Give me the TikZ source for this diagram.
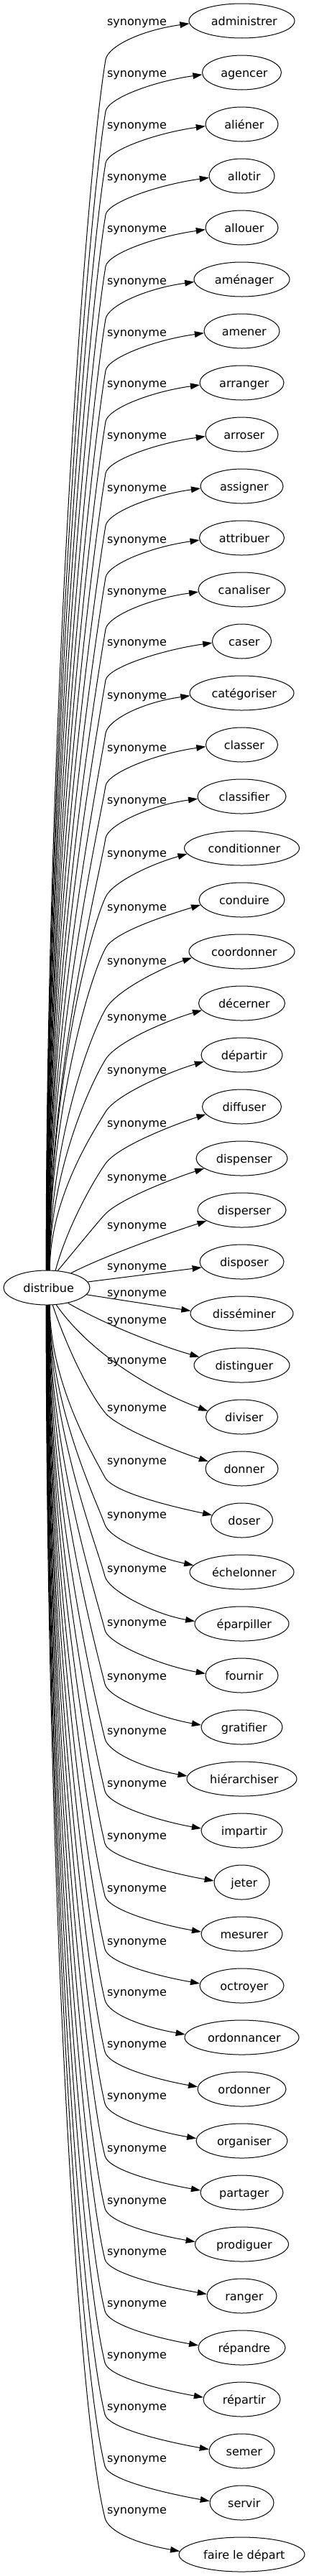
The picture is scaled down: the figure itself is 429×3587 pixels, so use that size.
\documentclass[tikz,border=0pt]{standalone}
\usepackage{fontspec}
\setmainfont{DejaVu Sans}
\usetikzlibrary{arrows.meta,shapes.geometric}
\begin{document}
\begin{tikzpicture}[x=0.75pt,y=-0.75pt,
  every node/.style={font=\fontsize{12pt}{14pt}\selectfont},
  syn/.style={draw, ellipse, line width=0.75pt, minimum height=36pt, inner sep=0pt, text height=10.5pt, text depth=0.75pt},
  lab/.style={inner sep=0pt, text height=10.5pt, text depth=0.75pt},
  edge/.style={line width=0.75pt, -{Triangle[length=9.75pt,width=6.5pt]}}]
\useasboundingbox (0,0) rectangle (429,3587);
\node[syn, minimum width=90pt] (d) at (65,1793) {\hspace*{4pt}distribue};
\foreach \k/\t/\w in {0/administrer/147, 1/agencer/110, 2/aliéner/101, 3/allotir/91, 4/allouer/101, 5/aménager/133, 6/amener/105, 7/arranger/117, 8/arroser/101, 9/assigner/115, 10/attribuer/118, 11/canaliser/121, 12/caser/82, 13/catégoriser/145, 14/classer/100, 15/classifier/123, 16/conditionner/160, 17/conduire/119, 18/coordonner/147, 19/décerner/120, 20/départir/113, 21/diffuser/110, 22/dispenser/127, 23/disperser/123, 24/disposer/117, 25/disséminer/143, 26/distinguer/133, 27/diviser/100, 28/donner/101, 29/doser/86, 30/échelonner/145, 31/éparpiller/131, 32/fournir/101, 33/gratifier/113, 34/hiérarchiser/153, 35/impartir/113, 36/jeter/77, 37/mesurer/113, 38/octroyer/117, 39/ordonnancer/159, 40/ordonner/123, 41/organiser/127, 42/partager/115, 43/prodiguer/130, 44/ranger/97, 45/répandre/121, 46/répartir/107, 47/semer/91, 48/servir/89, 49/faire le départ/175}{
  \node[syn, minimum width=\w*0.75pt] (n\k) at (336.5,{29+72*\k}) {\hspace*{5pt}\t};
}
\foreach \k/\ly in {0/29,1/101,2/173,3/245,4/317,5/390,6/462,7/533,8/605,9/678,10/750,11/822,12/893,13/967,14/1040,15/1113,16/1187,17/1262,18/1337,19/1415,20/1489,21/1563,22/1638,23/1705,24/1762,25/1799,26/1837,27/1893,28/1959,29/2033,30/2108,31/2183,32/2258,33/2333,34/2409,35/2482,36/2555,37/2628,38/2702,39/2773,40/2845,41/2917,42/2990,43/3063,44/3134,45/3206,46/3278,47/3350,48/3422,49/3494}{
  \node[lab] (l\k) at (190.5,\ly) {synonyme};
}
% upper edges
\foreach \k/\ly/\al/\sd/\bo/\ph/\Lt/\ta/\ps/\Lf/\ra in {
 0/29/92/-90/54/-80.5/18/183/-8/70/0.1,
 1/101/91/-90/54/-80.5/18/183/-8/70/0.1,
 2/173/91/-90/54/-80.5/18/183/-8/70/0.1,
 3/245/90/-90/54/-80.5/18/183/-8/70/0.1,
 4/317/90/-90/54/-80.5/18/183/-8/70/0.1,
 5/390/89/-90/54/-80.5/18/183/-8/70/0.1,
 6/462/88/-90/54/-80.5/18/183/-8/70/0.1,
 7/533/88/-90/54/-80.5/18/183/-8/70/0.1,
 8/605/87/-90/54/-80.5/18/183/-8/70/0.1,
 9/678/87/-90/54/-80.5/18/183/-8/70/0.1,
 10/750/86/-90/54/-80.5/18/183/-8/70/0.1,
 11/822/85/-90/54/-80.5/18/183/-8/70/0.1,
 12/893/85/-90/54/-80.5/18/183/-8/70/0.1,
 13/967/84/-90/54/-80.5/18/183/-8/70/0.1,
 14/1040/84/-90/54/-80.5/18/183/-8/70/0.1,
 15/1113/83/-90/54/-80.5/18/183/-8/70/0.1,
 16/1187/82/-90/62/-65/22/186/-16/55/0.12,
 17/1262/82/-90/58/-62/25/187/-17/50/0.13,
 18/1337/81/-90/68/-60/30/187/-19/45/0.15,
 19/1415/81/-90/60/-58/30/190/-16/45/0.15,
 20/1489/80/-90/59/-58/30/190/-16/45/0.15,
 21/1563/63/-75/57/-54/30/192/-18/45/0.15,
 22/1638/57/-50/52/-45/30/195/-18/45/0.15}{
  \pgfmathsetmacro\eBy{\ly+\bo}
  \pgfmathsetmacro\eD{1769-\eBy}
  \pgfmathsetmacro\eLo{0.45*\eD}
  \pgfmathsetmacro\eLs{\ra*\eD}
  \pgfmathsetmacro\ePb{\ph+180}
  \pgfmathsetmacro\ePe{\ps+180}
  \draw[edge] (d.\al) .. controls +(\sd:\eLo) and +(\ePb:\eLs) .. (147,\eBy) .. controls +(\ph:\Lt) and +(\ePe:\Lf) .. (n\k.\ta);
}
% middle edges
\draw[edge] (d.31) .. controls +(-27:55) and +(162:55) .. (n23.197);
\draw[edge] (d.8) -- (n24.188);
\draw[edge] (d.350) -- (n25.177);
\draw[edge] (d.324) .. controls +(30:60) and +(196:60) .. (n26.169);
\draw[edge] (d.299) .. controls +(55:90) and +(200:70) .. (n27.170);
\draw[edge] (d.289) .. controls +(72:50) and +(230:40) .. (147,1968) .. controls +(50:25) and +(198:50) .. (n28.168);
% lower edges
\foreach \k/\ly/\bo/\ph/\Lt/\ta/\ps/\Lf/\ra in {
 29/2033/24/62/25/170/12/50/0.15,
 30/2108/15/70/22/172/12/55/0.12,
 31/2183/12/76/20/177/10/60/0.1,
 32/2258/12/76/20/177/10/60/0.1,
 33/2333/12/76/20/177/10/60/0.1,
 34/2409/12/76/20/177/10/60/0.1,
 35/2482/12/76/20/177/10/60/0.1,
 36/2555/12/76/20/177/10/60/0.1,
 37/2628/12/76/20/177/10/60/0.1,
 38/2702/12/76/20/177/10/60/0.1,
 39/2773/12/76/20/177/10/60/0.1,
 40/2845/12/76/20/177/10/60/0.1,
 41/2917/12/76/20/177/10/60/0.1,
 42/2990/12/76/20/177/10/60/0.1,
 43/3063/12/76/20/177/10/60/0.1,
 44/3134/12/76/20/177/10/60/0.1,
 45/3206/12/76/20/177/10/60/0.1,
 46/3278/12/76/20/177/10/60/0.1,
 47/3350/12/76/20/177/10/60/0.1,
 48/3422/12/76/20/177/10/60/0.1,
 49/3494/12/76/20/177/10/60/0.1}{
  \pgfmathtruncatemacro\eAl{round(268+0.6*(49-\k))}
  \pgfmathsetmacro\eBy{\ly+\bo}
  \pgfmathsetmacro\eD{\eBy-1817}
  \pgfmathsetmacro\eLo{0.45*\eD}
  \pgfmathsetmacro\eLs{\ra*\eD}
  \pgfmathsetmacro\ePb{\ph+180}
  \pgfmathsetmacro\ePe{\ps+180}
  \draw[edge] (d.\eAl) .. controls +(90:\eLo) and +(\ePb:\eLs) .. (146,\eBy) .. controls +(\ph:\Lt) and +(\ePe:\Lf) .. (n\k.\ta);
}
\end{tikzpicture}
\end{document}
